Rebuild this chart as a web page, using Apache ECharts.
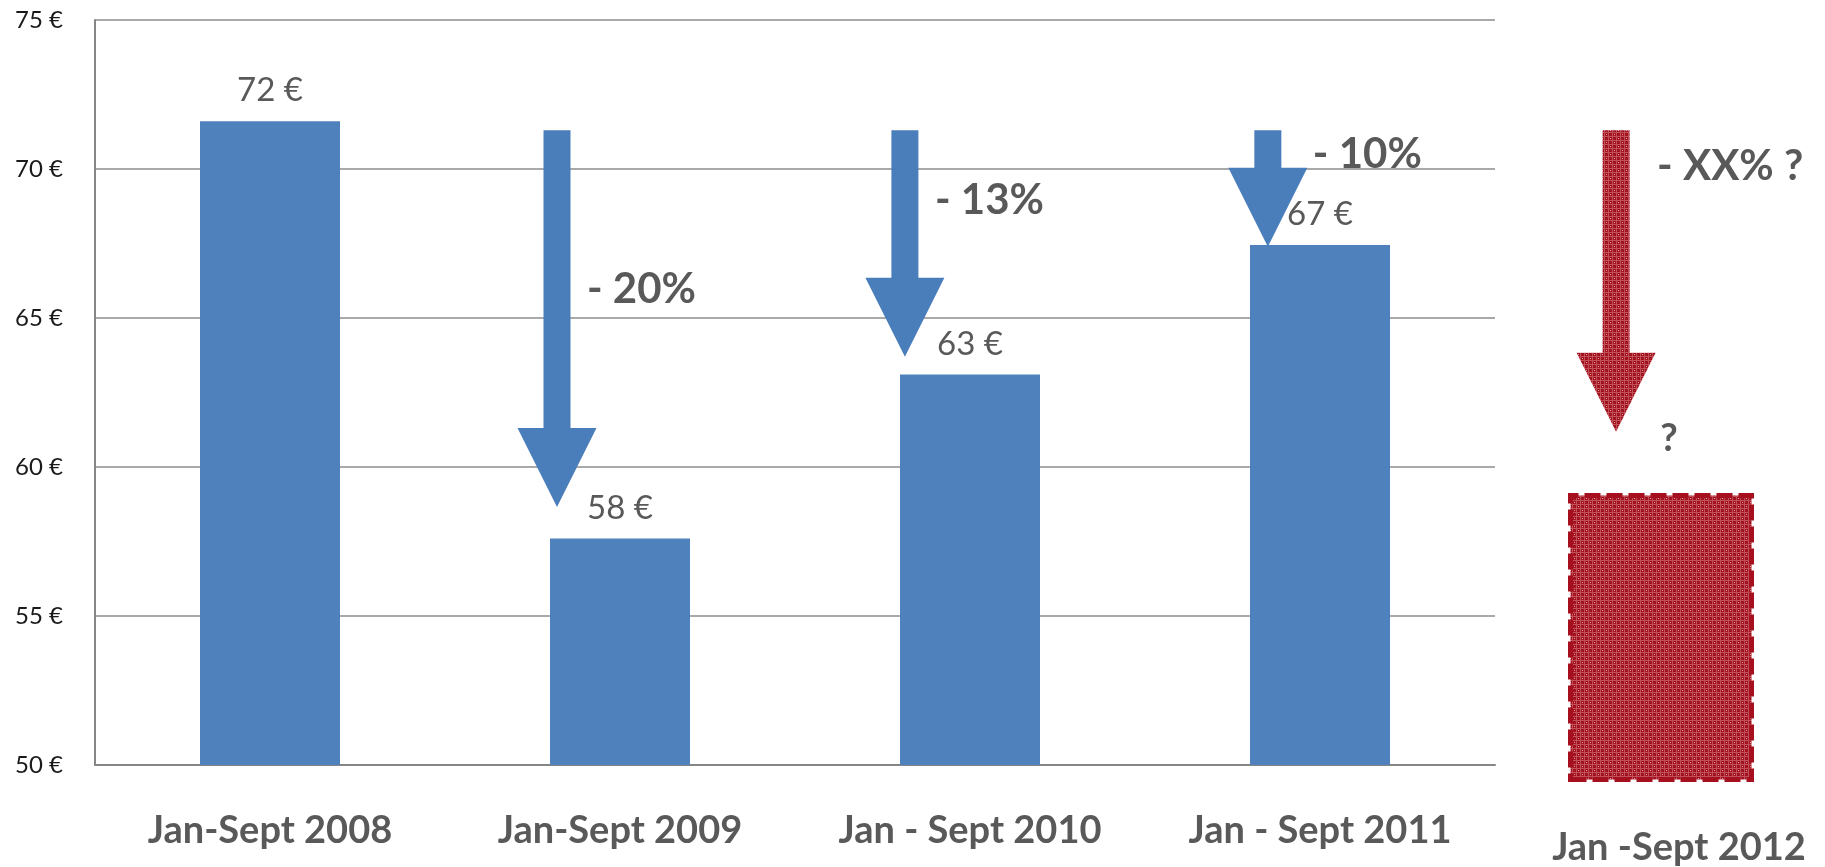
<!DOCTYPE html>
<html lang="fr">
<head>
    <meta charset="UTF-8">
    <title>Jan-Sept</title>
    <script src="https://cdn.jsdelivr.net/npm/echarts@6/dist/echarts.min.js"></script>
    <style>
        body { margin: 0; background: #fff; }
        #main { width: 1825px; height: 867px; }
    </style>
</head>
<body>
<div id="main"></div>
<script>
    // data
    const periods = ['Jan-Sept 2008', 'Jan-Sept 2009', 'Jan - Sept 2010', 'Jan - Sept 2011'];
    const prices = [71.6, 57.6, 63.1, 67.45];
    const yTicks = [50, 55, 60, 65, 70, 75];

    // the 2012 placeholder (value unknown)
    const nextPeriod = ['Jan -Sept 2012'];
    const nextValue = [1];

    // arrows: category they hang next to, start / end value, change label
    const arrowCat = [1, 2, 3, 3];
    const arrowFrom = [71.3, 71.3, 71.3, 71.3];
    const arrowTo = [58.66, 63.7, 67.39, 61.18];
    const changeLabels = ['- 20%', '- 13%', '- 10%', '- XX% ?'];
    const changeLabelAt = [65.97, 68.96, 70.5, 70.07];
    const tipLabels = ['', '', '', '?'];
    const tipLabelAt = [0, 0, 0, 60.94];

    // layout tweaks for the annotations (fraction of a band, pixels)
    const arrowShift = [-0.18, -0.186, -0.149, 0.846];
    const labelDx = [30, 30, 45, 41];

    const font = 'Lato, "Open Sans", sans-serif';
    const grey = '#595959';
    const blue = '#4f81bd';

    // red cross-hatch pattern for the unknown year
    function hatch() {
        const c = document.createElement('canvas');
        c.width = 8; c.height = 8;
        const g = c.getContext('2d');
        g.fillStyle = '#a3131f';
        g.fillRect(0, 0, 8, 8);
        g.fillStyle = '#c0505a';
        g.fillRect(0, 0, 8, 1);
        g.fillRect(0, 4, 8, 1);
        g.fillRect(0, 0, 1, 8);
        g.fillRect(4, 0, 1, 8);
        g.fillStyle = '#dfa3a9';
        g.fillRect(2, 2, 1, 1);
        g.fillRect(6, 6, 1, 1);
        return { image: c, repeat: 'repeat' };
    }
    const redFill = hatch();

    const arrowData = arrowCat.map((c, i) => [c, arrowFrom[i], arrowTo[i]]);

    const chart = echarts.init(document.getElementById('main'));
    chart.setOption({
        animation: false,
        grid: [
            { left: 95, right: 330, top: 20, bottom: 102 },
            { left: 1568, width: 186, top: 493, bottom: 85 }
        ],
        xAxis: [{
            type: 'category',
            data: periods,
            axisLine: { lineStyle: { color: '#868686', width: 2 } },
            axisTick: { show: false },
            axisLabel: { margin: 47, fontFamily: font, fontSize: 38, fontWeight: 'bold', color: grey }
        }, {
            type: 'category',
            gridIndex: 1,
            data: nextPeriod,
            axisLine: { show: false },
            axisTick: { show: false },
            axisLabel: { margin: 47, padding: [0, 0, 0, 36], fontFamily: font, fontSize: 38, fontWeight: 'bold', color: grey }
        }],
        yAxis: [{
            type: 'value',
            min: yTicks[0],
            max: yTicks[yTicks.length - 1],
            interval: 5,
            axisLine: { show: true, lineStyle: { color: '#868686', width: 2 } },
            axisTick: { show: false },
            splitLine: { lineStyle: { color: '#8c8c8c', width: 1.5 } },
            axisLabel: { margin: 32, fontFamily: font, fontSize: 24, color: '#1a1a1a', formatter: '{value} €' }
        }, {
            type: 'value',
            gridIndex: 1,
            min: 0,
            max: 1,
            show: false
        }],
        series: [{
            type: 'bar',
            data: prices,
            barWidth: 140,
            itemStyle: { color: blue },
            label: {
                show: true,
                position: 'top',
                distance: 14,
                fontFamily: font,
                fontSize: 33,
                color: grey,
                formatter: p => Math.round(p.value) + ' €'
            }
        }, {
            type: 'bar',
            xAxisIndex: 1,
            yAxisIndex: 1,
            data: nextValue,
            barWidth: '100%',
            itemStyle: {
                color: redFill,
                borderColor: '#a50f1e',
                borderWidth: 5,
                borderType: [16, 6]
            }
        }, {
            type: 'custom',
            data: arrowData,
            clip: false,
            z: 5,
            renderItem(params, api) {
                const i = params.dataIndex;
                const band = api.size([1, 0])[0];
                const a = api.coord([api.value(0), api.value(1)]);
                const b = api.coord([api.value(0), api.value(2)]);
                const x = a[0] + arrowShift[i] * band;
                const y0 = a[1], y1 = b[1];
                const sw = 13.5, hw = 39.5, hl = 79;
                const red = i === 3;
                const kids = [{
                    type: 'polygon',
                    shape: {
                        points: [
                            [x - sw, y0], [x + sw, y0], [x + sw, y1 - hl], [x + hw, y1 - hl],
                            [x, y1], [x - hw, y1 - hl], [x - sw, y1 - hl]
                        ]
                    },
                    style: { fill: red ? redFill : '#4a7ebb' }
                }, {
                    type: 'text',
                    style: {
                        text: changeLabels[i],
                        x: x + labelDx[i],
                        y: api.coord([api.value(0), changeLabelAt[i]])[1],
                        verticalAlign: 'middle',
                        fontFamily: font,
                        fontSize: 42,
                        fontWeight: 'bold',
                        fill: grey
                    }
                }];
                if (tipLabels[i]) {
                    kids.push({
                        type: 'text',
                        style: {
                            text: tipLabels[i],
                            x: x + 53,
                            y: api.coord([api.value(0), tipLabelAt[i]])[1],
                            align: 'center',
                            verticalAlign: 'middle',
                            fontFamily: font,
                            fontSize: 38,
                            fontWeight: 'bold',
                            fill: grey
                        }
                    });
                }
                return { type: 'group', children: kids };
            }
        }]
    });
</script>
</body>
</html>
